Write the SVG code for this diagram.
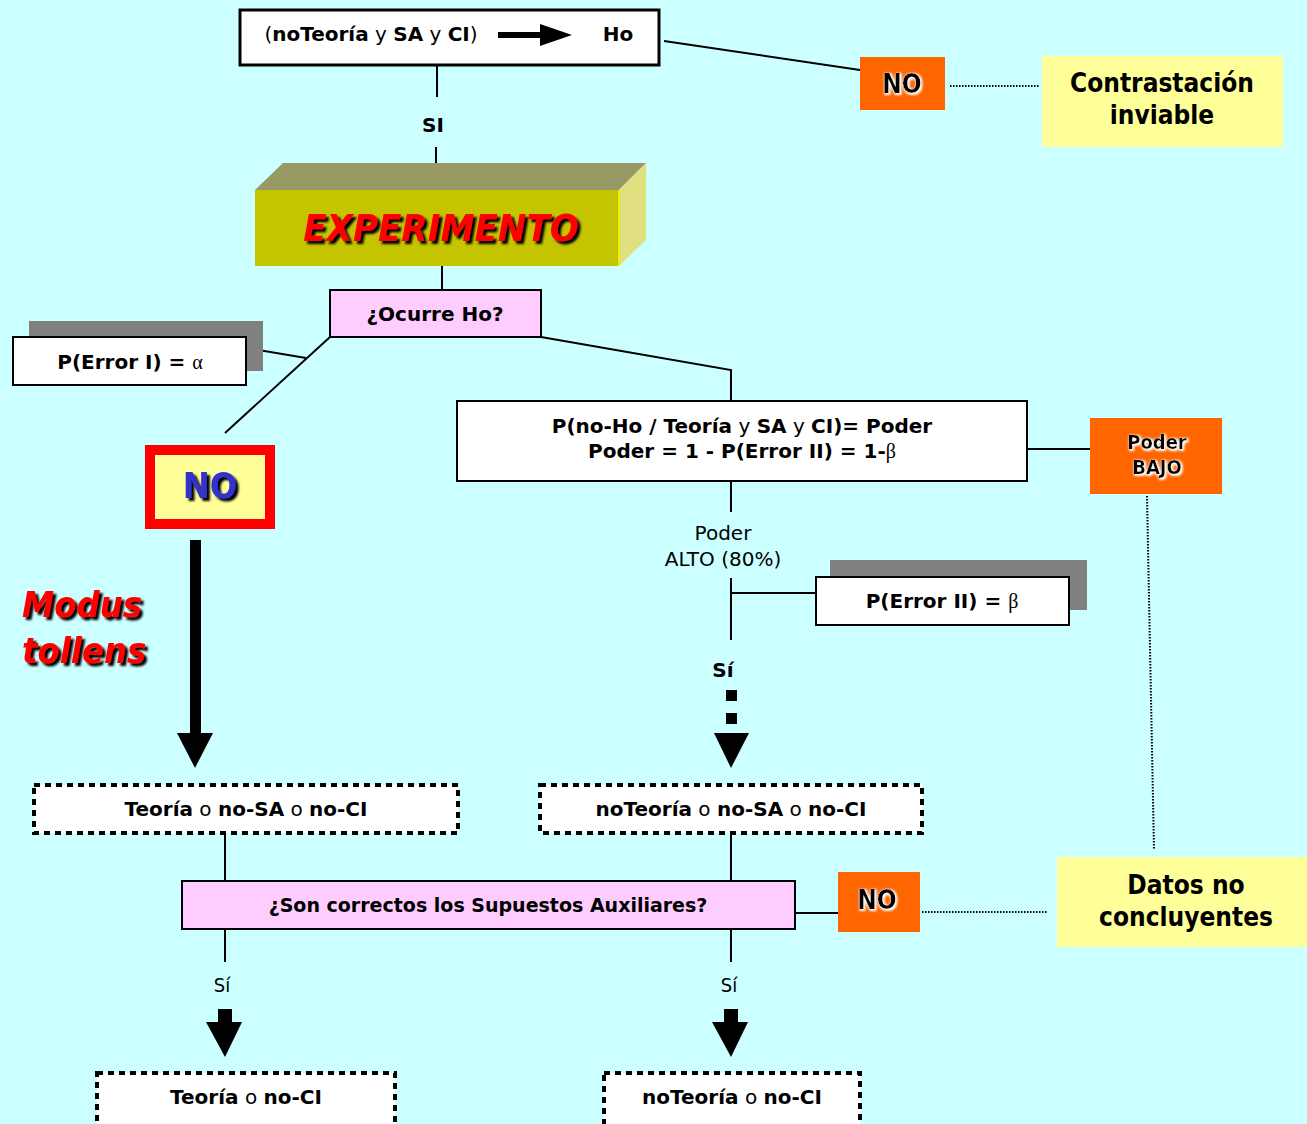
<svg xmlns="http://www.w3.org/2000/svg" width="1307" height="1124" viewBox="0 0 1307 1124">
  <defs>
    <style>
      text { font-family: "DejaVu Sans", "Liberation Sans", sans-serif; text-anchor: middle; fill: #000; }
      .c { font-family: "DejaVu Sans Condensed", "DejaVu Sans", "Liberation Sans", sans-serif; }
      .b { font-weight: bold; }
      .n { font-weight: normal; }
      .box { fill: #fff; stroke: #000; stroke-width: 2; }
      .pink { fill: #FFCCFF; stroke: #000; stroke-width: 2; }
      .orange { fill: #FF6600; }
      .yellow { fill: #FFFF99; }
      .shadow { fill: #808080; }
      .dash { fill: #fff; stroke: #000; stroke-width: 4; stroke-dasharray: 6 5; }
      .line { stroke: #000; stroke-width: 2; fill: none; }
      .dot { stroke: #000; stroke-width: 2; stroke-dasharray: 1.5 1.5; fill: none; }
      .red3d { font-weight: bold; font-style: italic; fill: #FF0000; }
      .greek { font-family: "Liberation Serif", serif; font-weight: normal; }
    </style>
    <filter id="glow" x="-20%" y="-20%" width="140%" height="140%">
      <feMorphology in="SourceAlpha" operator="dilate" radius="1" result="d"/>
      <feOffset in="d" dx="1" dy="1" result="o"/>
      <feGaussianBlur in="o" stdDeviation="0.8" result="bl"/>
      <feFlood flood-color="#fff"/>
      <feComposite in2="bl" operator="in" result="w"/>
      <feMerge><feMergeNode in="w"/><feMergeNode in="SourceGraphic"/></feMerge>
    </filter>
    <filter id="drop" x="-10%" y="-20%" width="130%" height="150%">
      <feOffset in="SourceAlpha" dx="3" dy="3" result="o"/>
      <feGaussianBlur in="o" stdDeviation="1" result="bl"/>
      <feMerge><feMergeNode in="bl"/><feMergeNode in="SourceGraphic"/></feMerge>
    </filter>
  </defs>

  <rect width="1307" height="1124" fill="#CCFFFF"/>

  <!-- connectors -->
  <g id="connectors">
    <line class="line" x1="437" y1="66" x2="437" y2="97"/>
    <text class="b" x="433" y="132" font-size="20">SI</text>
    <line class="line" x1="436" y1="147" x2="436" y2="177"/>
    <line class="line" x1="664" y1="41" x2="860" y2="70"/>
    <line class="dot" x1="950" y1="86" x2="1040" y2="86"/>
    <line class="line" x1="442" y1="266" x2="442" y2="290"/>
    <line class="line" x1="330" y1="337" x2="225" y2="433"/>
    <line class="line" x1="246" y1="348" x2="306" y2="358"/>
    <polyline class="line" points="541,337 731,370 731,401"/>
    <line class="line" x1="1027" y1="449" x2="1090" y2="449"/>
    <line class="dot" x1="1147" y1="496" x2="1154" y2="850"/>
    <line class="line" x1="731" y1="481" x2="731" y2="512"/>
    <text x="723" y="540" font-size="20">Poder</text>
    <text x="723" y="566" font-size="20">ALTO (80%)</text>
    <line class="line" x1="731" y1="578" x2="731" y2="640"/>
    <line class="line" x1="731" y1="593" x2="816" y2="593"/>
    <text class="b" x="723" y="677" font-size="20">Sí</text>
    <rect x="726" y="690" width="11" height="11"/>
    <rect x="726" y="713" width="11" height="11"/>
    <polygon points="714,733 749,733 731,768"/>
    <rect x="190" y="540" width="11" height="195"/>
    <polygon points="177,733 213,733 195,768"/>
    <line class="line" x1="225" y1="833" x2="225" y2="881"/>
    <line class="line" x1="731" y1="833" x2="731" y2="881"/>
    <line class="line" x1="795" y1="913" x2="838" y2="913"/>
    <line class="dot" x1="922" y1="912" x2="1047" y2="912"/>
    <line class="line" x1="225" y1="929" x2="225" y2="962"/>
    <text class="c" x="222" y="992" font-size="20">Sí</text>
    <rect x="218" y="1009" width="14" height="14"/>
    <polygon points="206,1022 242,1022 225,1057"/>
    <line class="line" x1="731" y1="929" x2="731" y2="962"/>
    <text class="c" x="729" y="992" font-size="20">Sí</text>
    <rect x="724" y="1009" width="14" height="14"/>
    <polygon points="712,1022 748,1022 731,1057"/>
  </g>

  <!-- implication -->
  <g id="implicacion">
    <rect x="240" y="10" width="419" height="55" fill="#fff" stroke="#000" stroke-width="3"/>
    <text x="371" y="41" font-size="20"><tspan class="n">(</tspan><tspan class="b">noTeoría</tspan><tspan class="n"> y </tspan><tspan class="b">SA</tspan><tspan class="n"> y </tspan><tspan class="b">CI</tspan><tspan class="n">)</tspan></text>
    <rect x="498" y="32" width="44" height="6"/>
    <polygon points="540,24 572,35 540,46"/>
    <text class="b" x="618" y="41" font-size="20">Ho</text>
  </g>

  <g id="no-top">
    <rect class="orange" x="860" y="57" width="85" height="53"/>
    <text class="b c" x="902" y="93" font-size="26" filter="url(#glow)">NO</text>
  </g>

  <g id="contrastacion">
    <rect class="yellow" x="1042" y="56" width="241" height="91"/>
    <text class="b c" x="1162" y="92" font-size="26">Contrastación</text>
    <text class="b c" x="1162" y="124" font-size="26">inviable</text>
  </g>

  <g id="experimento">
    <polygon points="255,190 283,163 646,163 619,190" fill="#999966"/>
    <polygon points="619,190 646,163 646,240 619,266" fill="#E0E080"/>
    <rect x="255" y="190" width="364" height="76" fill="#C4C400"/>
    <line x1="619" y1="190" x2="619" y2="266" stroke="#F0F000" stroke-width="2"/>
    <text class="red3d c" x="441" y="241" font-size="38" filter="url(#drop)">EXPERIMENTO</text>
  </g>

  <g id="ocurre">
    <rect class="pink" x="330" y="290" width="211" height="47"/>
    <text class="b" x="435" y="321" font-size="20">¿Ocurre Ho?</text>
  </g>

  <g id="error1">
    <rect class="shadow" x="29" y="321" width="234" height="50"/>
    <rect class="box" x="13" y="337" width="233" height="48"/>
    <text class="b" x="130" y="369" font-size="20">P(Error I) = <tspan class="greek">α</tspan></text>
  </g>

  <g id="no-rojo">
    <rect x="145" y="445" width="130" height="84" fill="#FF0000"/>
    <rect x="155" y="455" width="110" height="64" fill="#FFFF99"/>
    <text class="b c" x="210" y="498" font-size="36" style="fill:#3333CC" filter="url(#drop)">NO</text>
  </g>

  <g id="modus">
    <text class="red3d c" x="22" y="617" font-size="36" style="text-anchor:start" filter="url(#drop)">Modus</text>
    <text class="red3d c" x="22" y="663" font-size="36" style="text-anchor:start" filter="url(#drop)">tollens</text>
  </g>

  <g id="poder">
    <rect class="box" x="457" y="401" width="570" height="80"/>
    <text class="b" x="742" y="433" font-size="20">P(no-Ho / Teoría<tspan class="n"> y </tspan>SA<tspan class="n"> y </tspan>CI)= Poder</text>
    <text class="b" x="742" y="458" font-size="20">Poder = 1 - P(Error II) = 1-<tspan class="greek">β</tspan></text>
  </g>

  <g id="poder-bajo">
    <rect class="orange" x="1090" y="418" width="132" height="76"/>
    <text class="b c" x="1157" y="449" font-size="20" filter="url(#glow)">Poder</text>
    <text class="b c" x="1157" y="474" font-size="20" filter="url(#glow)">BAJO</text>
  </g>

  <g id="error2">
    <rect class="shadow" x="830" y="560" width="257" height="50"/>
    <rect class="box" x="816" y="577" width="253" height="48"/>
    <text class="b" x="942" y="608" font-size="20">P(Error II) = <tspan class="greek">β</tspan></text>
  </g>

  <g id="res-izq">
    <rect class="dash" x="34" y="785" width="424" height="48"/>
    <text class="b" x="246" y="816" font-size="20">Teoría<tspan class="n"> o </tspan>no-SA<tspan class="n"> o </tspan>no-CI</text>
  </g>

  <g id="res-der">
    <rect class="dash" x="540" y="785" width="382" height="48"/>
    <text class="b" x="731" y="816" font-size="20">noTeoría<tspan class="n"> o </tspan>no-SA<tspan class="n"> o </tspan>no-CI</text>
  </g>

  <g id="supuestos">
    <rect class="pink" x="182" y="881" width="613" height="48"/>
    <text class="b" x="488" y="912" font-size="19">¿Son correctos los Supuestos Auxiliares?</text>
  </g>

  <g id="no-sa">
    <rect class="orange" x="838" y="872" width="82" height="60"/>
    <text class="b c" x="877" y="909" font-size="26" filter="url(#glow)">NO</text>
  </g>

  <g id="datos">
    <rect class="yellow" x="1057" y="857" width="250" height="90"/>
    <text class="b c" x="1186" y="894" font-size="26">Datos no</text>
    <text class="b c" x="1186" y="926" font-size="26">concluyentes</text>
  </g>

  <g id="fin-izq">
    <rect class="dash" x="97" y="1073" width="298" height="56"/>
    <text class="b" x="246" y="1104" font-size="20">Teoría<tspan class="n"> o </tspan>no-CI</text>
  </g>

  <g id="fin-der">
    <rect class="dash" x="604" y="1073" width="256" height="56"/>
    <text class="b" x="732" y="1104" font-size="20">noTeoría<tspan class="n"> o </tspan>no-CI</text>
  </g>
</svg>
